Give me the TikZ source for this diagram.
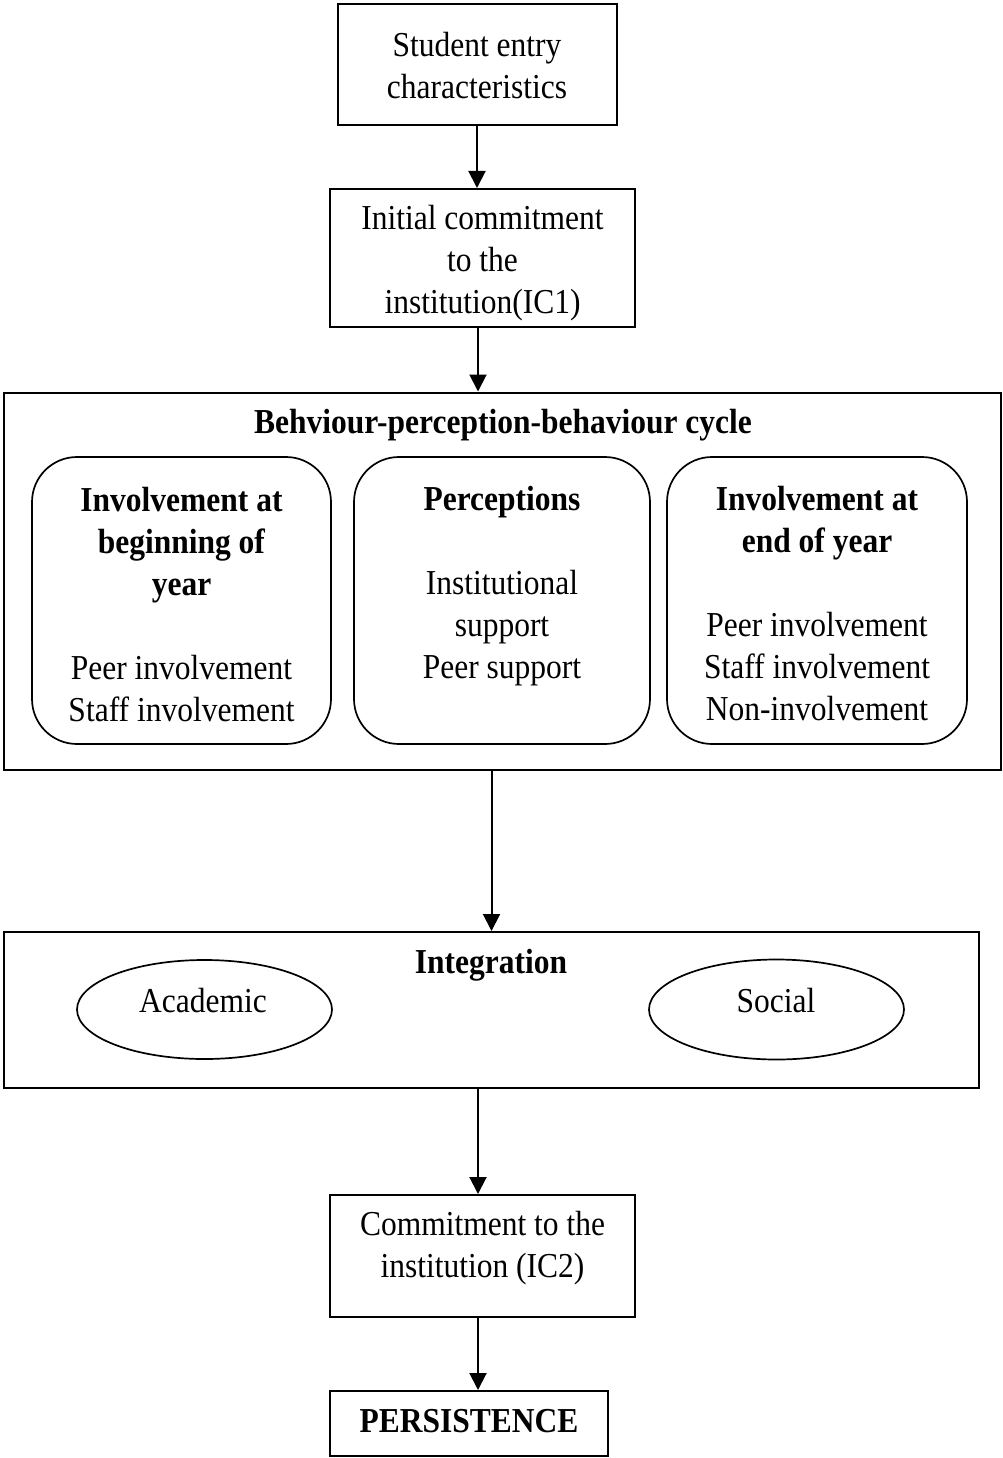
\documentclass[tikz,border=0pt]{standalone}
\usepackage{fontspec}
\setmainfont{Liberation Serif}[FakeStretch=0.9]
\usetikzlibrary{arrows.meta,shapes.geometric}
\begin{document}
\begin{tikzpicture}[x=1pt,y=-1pt,
  box/.style={draw,line width=2pt,inner sep=0pt},
  rbox/.style={draw,line width=1.7pt,inner sep=0pt,rounded corners=45pt},
  oval/.style={draw,ellipse,line width=1.7pt,inner sep=0pt},
  txt/.style={align=center,inner sep=0pt,anchor=north,
    font=\fontsize{35pt}{42pt}\selectfont},
  btxt/.style={txt,font=\fontsize{35pt}{42pt}\selectfont\bfseries},
  arr/.style={line width=2pt,-{Triangle[width=17pt,length=17pt]}}]
\useasboundingbox (0,0) rectangle (1002,1458);

% flow boxes
\node[box,minimum width=279pt,minimum height=121pt] (entry) at (477,64.5) {};
\node[box,minimum width=305pt,minimum height=138pt] (ic1) at (482.5,258) {};
\node[box,minimum width=997pt,minimum height=377pt] (cycle) at (502.5,581) {};
\node[box,minimum width=975pt,minimum height=156pt] (integ) at (491.5,1010) {};
\node[box,minimum width=305pt,minimum height=122pt] (ic2) at (482.5,1256) {};
\node[box,minimum width=278pt,minimum height=65pt] (persist) at (469,1423.5) {};

% cycle components
\node[rbox,minimum width=299pt,minimum height=287pt] (begin) at (181.5,600.5) {};
\node[rbox,minimum width=296pt,minimum height=287pt] (percep) at (502,600.5) {};
\node[rbox,minimum width=300pt,minimum height=287pt] (endyr) at (817,600.5) {};

% integration components
\node[oval,minimum width=255pt,minimum height=99pt] (acad) at (204.5,1009.5) {};
\node[oval,minimum width=255pt,minimum height=100pt] (social) at (776.5,1009.5) {};

% texts (first baseline = node top + 29.4pt)
\node[txt] (entryT) at (477,26.6) {\strut Student entry\\characteristics};
\node[txt] (ic1T) at (482.5,199.6) {\strut Initial commitment\\to the\\institution(IC1)};
\node[btxt] (cycleT) at (503,403.6) {\strut Behviour-perception-behaviour cycle};
\node[txt] (beginT) at (181.5,481.6) {\strut\textbf{Involvement at}\\\textbf{beginning of}\\\textbf{year}\\\strut\\Peer involvement\\Staff involvement};
\node[txt] (percepT) at (502,480.6) {\strut\textbf{Perceptions}\\\strut\\Institutional\\support\\Peer support};
\node[txt] (endyrT) at (817,480.6) {\strut\textbf{Involvement at}\\\textbf{end of year}\\\strut\\Peer involvement\\Staff involvement\\Non-involvement};
\node[btxt] (integT) at (491,943.6) {\strut Integration};
\node[txt] (acadT) at (203,982.6) {\strut Academic};
\node[txt] (socialT) at (776,982.6) {\strut Social};
\node[txt] (ic2T) at (482.5,1205.6) {\strut Commitment to the\\institution (IC2)};
\node[btxt] (persistT) at (469,1402.6) {\strut PERSISTENCE};

% connectors
\draw[arr] (entry.south) -- (entry.south |- ic1.north);
\draw[arr] ([xshift=-4.5pt]ic1.south) -- ([xshift=-4.5pt]ic1.south |- cycle.north);
\draw[arr] (integ.north |- cycle.south) -- (integ.north);
\draw[arr] ([xshift=-4.5pt]ic2.north |- integ.south) -- ([xshift=-4.5pt]ic2.north);
\draw[arr] ([xshift=-4.5pt]ic2.south) -- ([xshift=-4.5pt]ic2.south |- persist.north);
\end{tikzpicture}
\end{document}
